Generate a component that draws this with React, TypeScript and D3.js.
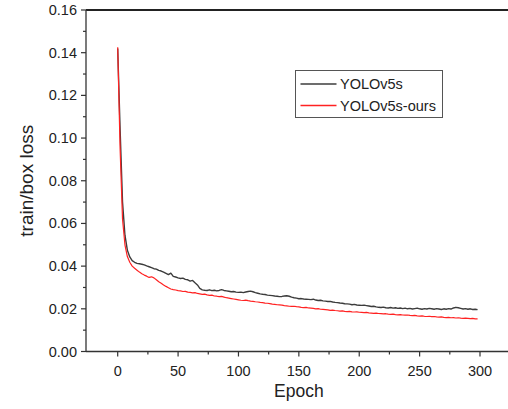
import React, { useEffect, useRef } from 'react';
import * as d3 from 'd3';

// epochs sampled every 2 epochs
const epochs: number[] = d3.range(0, 300, 2);

const yolov5s: number[] = [
  0.1420, 0.1040, 0.0700, 0.0545, 0.0475, 0.0443, 0.0426, 0.0418, 0.0413, 0.0411,
  0.0409, 0.0406, 0.0401, 0.0397, 0.0393, 0.0388, 0.0386, 0.0380, 0.0377, 0.0372,
  0.0366, 0.0360, 0.0367, 0.0352, 0.0349, 0.0345, 0.0342, 0.0344, 0.0338, 0.0336,
  0.0330, 0.0333, 0.0322, 0.0312, 0.0296, 0.0289, 0.0287, 0.0286, 0.0289, 0.0285,
  0.0287, 0.0284, 0.0286, 0.0290, 0.0286, 0.0284, 0.0282, 0.0280, 0.0281, 0.0278,
  0.0277, 0.0278, 0.0276, 0.0279, 0.0281, 0.0283, 0.0280, 0.0276, 0.0273, 0.0270,
  0.0268, 0.0267, 0.0264, 0.0263, 0.0262, 0.0260, 0.0259, 0.0257, 0.0258, 0.0260,
  0.0261, 0.0259, 0.0255, 0.0252, 0.0250, 0.0247, 0.0248, 0.0246, 0.0245, 0.0244,
  0.0243, 0.0245, 0.0241, 0.0239, 0.0240, 0.0237, 0.0236, 0.0234, 0.0235, 0.0232,
  0.0230, 0.0229, 0.0227, 0.0226, 0.0224, 0.0223, 0.0222, 0.0219, 0.0221, 0.0218,
  0.0217, 0.0216, 0.0217, 0.0215, 0.0213, 0.0211, 0.0212, 0.0209, 0.0207, 0.0206,
  0.0208, 0.0205, 0.0204, 0.0206, 0.0203, 0.0205, 0.0202, 0.0204, 0.0201, 0.0203,
  0.0200, 0.0202, 0.0199, 0.0201, 0.0203, 0.0200, 0.0198, 0.0201, 0.0199, 0.0202,
  0.0200, 0.0198, 0.0201, 0.0199, 0.0197, 0.0200, 0.0198, 0.0201, 0.0199, 0.0204,
  0.0207, 0.0205, 0.0202, 0.0199, 0.0201, 0.0198, 0.0200, 0.0197, 0.0198, 0.0196,
];

const yolov5sOurs: number[] = [
  0.1425, 0.0950, 0.0620, 0.0500, 0.0445, 0.0418, 0.0400, 0.0390, 0.0381, 0.0372,
  0.0364, 0.0358, 0.0353, 0.0347, 0.0350, 0.0345, 0.0336, 0.0327, 0.0320, 0.0312,
  0.0305, 0.0299, 0.0293, 0.0290, 0.0288, 0.0285, 0.0284, 0.0281, 0.0282, 0.0278,
  0.0277, 0.0275, 0.0276, 0.0272, 0.0270, 0.0268, 0.0269, 0.0265, 0.0263, 0.0264,
  0.0260, 0.0259, 0.0257, 0.0258, 0.0255, 0.0252, 0.0250, 0.0248, 0.0246, 0.0244,
  0.0242, 0.0240, 0.0239, 0.0241, 0.0238, 0.0236, 0.0235, 0.0233, 0.0232, 0.0230,
  0.0229, 0.0227, 0.0226, 0.0224, 0.0222, 0.0221, 0.0219, 0.0218, 0.0217, 0.0215,
  0.0214, 0.0212, 0.0211, 0.0212, 0.0210, 0.0209, 0.0207, 0.0206, 0.0207, 0.0204,
  0.0203, 0.0202, 0.0200, 0.0201, 0.0198, 0.0197, 0.0196, 0.0195, 0.0193, 0.0194,
  0.0192, 0.0191, 0.0189, 0.0190, 0.0188, 0.0187, 0.0188, 0.0186, 0.0185, 0.0186,
  0.0184, 0.0183, 0.0182, 0.0183, 0.0181, 0.0180, 0.0179, 0.0180, 0.0178, 0.0177,
  0.0176, 0.0177, 0.0175, 0.0174, 0.0175, 0.0173, 0.0172, 0.0173, 0.0171, 0.0170,
  0.0171, 0.0169, 0.0168, 0.0169, 0.0167, 0.0166, 0.0167, 0.0165, 0.0164, 0.0165,
  0.0163, 0.0164, 0.0162, 0.0161, 0.0162, 0.0160, 0.0159, 0.0160, 0.0158, 0.0159,
  0.0157, 0.0158, 0.0156, 0.0155, 0.0156, 0.0155, 0.0154, 0.0155, 0.0153, 0.0153,
];

const series = [
  { name: 'YOLOv5s', values: yolov5s, color: '#3c3c3c', width: 1.4 },
  { name: 'YOLOv5s-ours', values: yolov5sOurs, color: '#ff2222', width: 1.2 },
];

const xMajor = [0, 50, 100, 150, 200, 250, 300];
const xMinor = [25, 75, 125, 175, 225, 275];
const yMajor = [0, 0.02, 0.04, 0.06, 0.08, 0.1, 0.12, 0.14, 0.16];
const yMinor = [0.01, 0.03, 0.05, 0.07, 0.09, 0.11, 0.13, 0.15];

const App = () => {
  const svgRef = useRef<SVGSVGElement>(null);

  useEffect(() => {
    const width = 508;
    const height = 409;
    const font = 'Arial, "Liberation Sans", sans-serif';

    const left = 86;
    const right = 508;
    const top = 10;
    const bottom = 351.5;

    const x = d3.scaleLinear().domain([0, 300]).range([117.7, 480]);
    const y = d3.scaleLinear().domain([0, 0.16]).range([bottom, top]);

    const svg = d3.select(svgRef.current);
    svg.selectAll('*').remove();
    svg.attr('width', width).attr('height', height);

    svg.append('rect').attr('width', width).attr('height', height).attr('fill', '#fff');

    // frame lines
    svg.append('line')
      .attr('x1', left).attr('x2', right).attr('y1', top).attr('y2', top)
      .attr('stroke', '#222').attr('stroke-width', 2);
    svg.append('line')
      .attr('x1', left).attr('x2', right).attr('y1', bottom).attr('y2', bottom)
      .attr('stroke', '#333').attr('stroke-width', 1.3);
    svg.append('line')
      .attr('x1', left).attr('x2', left).attr('y1', top).attr('y2', bottom)
      .attr('stroke', '#333').attr('stroke-width', 1.3);

    // y ticks
    const yAxis = svg.append('g');
    yAxis.selectAll('line.major').data(yMajor).join('line')
      .attr('class', 'major')
      .attr('x1', left - 5).attr('x2', left)
      .attr('y1', (d) => y(d)).attr('y2', (d) => y(d))
      .attr('stroke', '#333').attr('stroke-width', 1.2);
    yAxis.selectAll('line.minor').data(yMinor).join('line')
      .attr('class', 'minor')
      .attr('x1', left - 3).attr('x2', left)
      .attr('y1', (d) => y(d)).attr('y2', (d) => y(d))
      .attr('stroke', '#333').attr('stroke-width', 1.2);
    yAxis.selectAll('text').data(yMajor).join('text')
      .attr('x', left - 9)
      .attr('y', (d) => y(d) + 5)
      .attr('text-anchor', 'end')
      .attr('font-family', font)
      .attr('font-size', 14.5)
      .attr('fill', '#222')
      .text((d) => d3.format('.2f')(d));

    // x ticks
    const xAxis = svg.append('g');
    xAxis.selectAll('line.major').data(xMajor).join('line')
      .attr('class', 'major')
      .attr('x1', (d) => x(d)).attr('x2', (d) => x(d))
      .attr('y1', bottom).attr('y2', bottom + 5)
      .attr('stroke', '#333').attr('stroke-width', 1.2);
    xAxis.selectAll('line.minor').data(xMinor).join('line')
      .attr('class', 'minor')
      .attr('x1', (d) => x(d)).attr('x2', (d) => x(d))
      .attr('y1', bottom).attr('y2', bottom + 3)
      .attr('stroke', '#333').attr('stroke-width', 1.2);
    xAxis.selectAll('text').data(xMajor).join('text')
      .attr('x', (d) => x(d))
      .attr('y', bottom + 24)
      .attr('text-anchor', 'middle')
      .attr('font-family', font)
      .attr('font-size', 14.5)
      .attr('fill', '#222')
      .text((d) => d);

    // axis titles
    svg.append('text')
      .attr('x', (x(0) + x(300)) / 2)
      .attr('y', 397)
      .attr('text-anchor', 'middle')
      .attr('font-family', font)
      .attr('font-size', 17.5)
      .attr('fill', '#222')
      .text('Epoch');
    svg.append('text')
      .attr('transform', `translate(33, ${(top + bottom) / 2}) rotate(-90)`)
      .attr('text-anchor', 'middle')
      .attr('font-family', font)
      .attr('font-size', 19)
      .attr('fill', '#222')
      .text('train/box loss');

    // curves
    const line = d3.line<number>()
      .x((_, i) => x(epochs[i]))
      .y((d) => y(d));

    series.forEach((s) => {
      svg.append('path')
        .datum(s.values)
        .attr('fill', 'none')
        .attr('stroke', s.color)
        .attr('stroke-width', s.width)
        .attr('stroke-linejoin', 'round')
        .attr('d', line);
    });

    // legend
    const legend = svg.append('g').attr('transform', 'translate(295.5, 70.5)');
    legend.append('rect')
      .attr('width', 147).attr('height', 47)
      .attr('fill', '#fff').attr('stroke', '#555').attr('stroke-width', 1);
    series.forEach((s, i) => {
      const ly = 13.5 + i * 21.5;
      legend.append('line')
        .attr('x1', 5).attr('x2', 41).attr('y1', ly).attr('y2', ly)
        .attr('stroke', s.color).attr('stroke-width', 1.5);
      legend.append('text')
        .attr('x', 44.5).attr('y', ly + 5)
        .attr('font-family', font)
        .attr('font-size', 14.5)
        .attr('fill', '#222')
        .text(s.name);
    });
  }, []);

  return <svg ref={svgRef} style={{ position: 'absolute', left: 0, top: 0 }}></svg>;
};

export default App;
